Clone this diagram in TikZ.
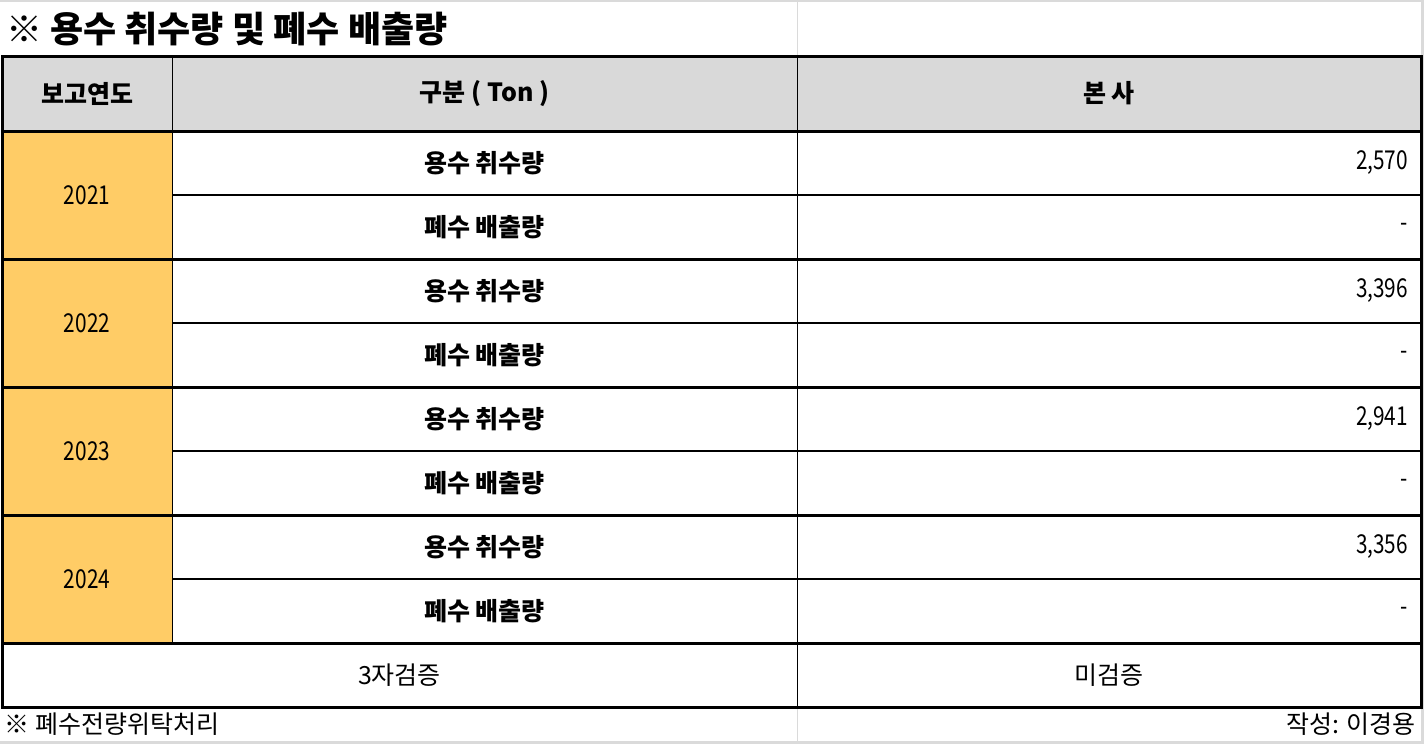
\documentclass[tikz,border=0pt]{standalone}
\usepackage{fontspec}
\setmainfont{Noto Sans CJK KR}
\newfontfamily\digitfont[FakeStretch=0.8]{Noto Sans CJK KR}
\usetikzlibrary{positioning}
\definecolor{hdrgrey}{HTML}{D9D9D9}
\definecolor{yeargold}{HTML}{FFCC66}
\definecolor{gridgrey}{HTML}{DADADA}

\begin{document}
\begin{tikzpicture}[x=1pt,y=-1pt, semithick]
	\tikzset{
		cell/.style={inner sep=0pt, outer sep=0pt, font=\fontsize{25}{25}\selectfont},
		digits/.style={font=\digitfont\fontsize{26}{26}\selectfont},
		hcell/.style={cell, fill=hdrgrey, minimum height=75pt, font=\fontsize{25}{25}\selectfont\bfseries},
		ycell/.style={cell, digits, fill=yeargold, minimum width=170pt, minimum height=128pt},
		icell/.style={cell, minimum width=625pt, minimum height=64pt, font=\fontsize{25}{25}\selectfont\bfseries},
		vcell/.style={cell, digits, minimum width=624pt, minimum height=64pt, text width=598pt, align=right},
		fcell/.style={cell, minimum height=64pt},
		heavy/.style={line width=3pt},
		medium/.style={line width=2pt},
		light/.style={line width=1pt}
	}
	\useasboundingbox (0,0) rectangle (1424,744);
	\fill[gridgrey] (0,0) rectangle (1424,744);
	\fill[white] (0,2) rectangle (1421,741);

	\node[cell, anchor=west, font=\fontsize{36}{36}\selectfont\bfseries] (title) at (6,29) {※ 용수 취수량 및 폐수 배출량};

	% header
	\node[hcell, minimum width=170pt] (h1) at (87,93.5) {보고연도};
	\node[hcell, minimum width=625pt, right=0pt of h1] (h2) {구분 ( Ton )};
	\node[hcell, minimum width=624pt, right=0pt of h2] (h3) {본 사};

	% years
	\node[ycell, below=0pt of h1]  (y21) {2021};
	\node[ycell, below=0pt of y21] (y22) {2022};
	\node[ycell, below=0pt of y22] (y23) {2023};
	\node[ycell, below=0pt of y23] (y24) {2024};

	% items
	\node[icell, below=0pt of h2]   (i21a) {용수 취수량};
	\node[icell, below=0pt of i21a] (i21b) {폐수 배출량};
	\node[icell, below=0pt of i21b] (i22a) {용수 취수량};
	\node[icell, below=0pt of i22a] (i22b) {폐수 배출량};
	\node[icell, below=0pt of i22b] (i23a) {용수 취수량};
	\node[icell, below=0pt of i23a] (i23b) {폐수 배출량};
	\node[icell, below=0pt of i23b] (i24a) {용수 취수량};
	\node[icell, below=0pt of i24a] (i24b) {폐수 배출량};

	% values
	\node[vcell, below=0pt of h3]   (v21a) {2,570};
	\node[vcell, below=0pt of v21a] (v21b) {-};
	\node[vcell, below=0pt of v21b] (v22a) {3,396};
	\node[vcell, below=0pt of v22a] (v22b) {-};
	\node[vcell, below=0pt of v22b] (v23a) {2,941};
	\node[vcell, below=0pt of v23a] (v23b) {-};
	\node[vcell, below=0pt of v23b] (v24a) {3,356};
	\node[vcell, below=0pt of v24a] (v24b) {-};

	% footer
	\node[fcell, minimum width=795pt, anchor=north west] (f1) at (y24.south west) {3자검증};
	\node[fcell, minimum width=624pt, right=0pt of f1] (f2) {미검증};

	\node[cell, anchor=west] (note) at (5,724) {※ 폐수전량위탁처리};
	\node[cell, anchor=east] (writer) at (1416,724) {작성: 이경용};

	% grid
	\draw[gridgrey, light] (h2.north east) -- ++(0,-54);
	\draw[gridgrey, light] (f1.south east) -- ++(0,34);
	\draw[light] (h1.north east) -- (y24.south east);
	\draw[light] (h2.north east) -- (f1.south east);
	\draw[medium] (i21a.south west) -- (v21a.south east);
	\draw[medium] (i22a.south west) -- (v22a.south east);
	\draw[medium] (i23a.south west) -- (v23a.south east);
	\draw[medium] (i24a.south west) -- (v24a.south east);
	\draw[heavy] (h1.south west) -- (h3.south east);
	\draw[heavy] (y21.south west) -- (v21b.south east);
	\draw[heavy] (y22.south west) -- (v22b.south east);
	\draw[heavy] (y23.south west) -- (v23b.south east);
	\draw[heavy] (y24.south west) -- (v24b.south east);
	\draw[heavy] (h1.north west) rectangle (f2.south east);
\end{tikzpicture}
\end{document}
